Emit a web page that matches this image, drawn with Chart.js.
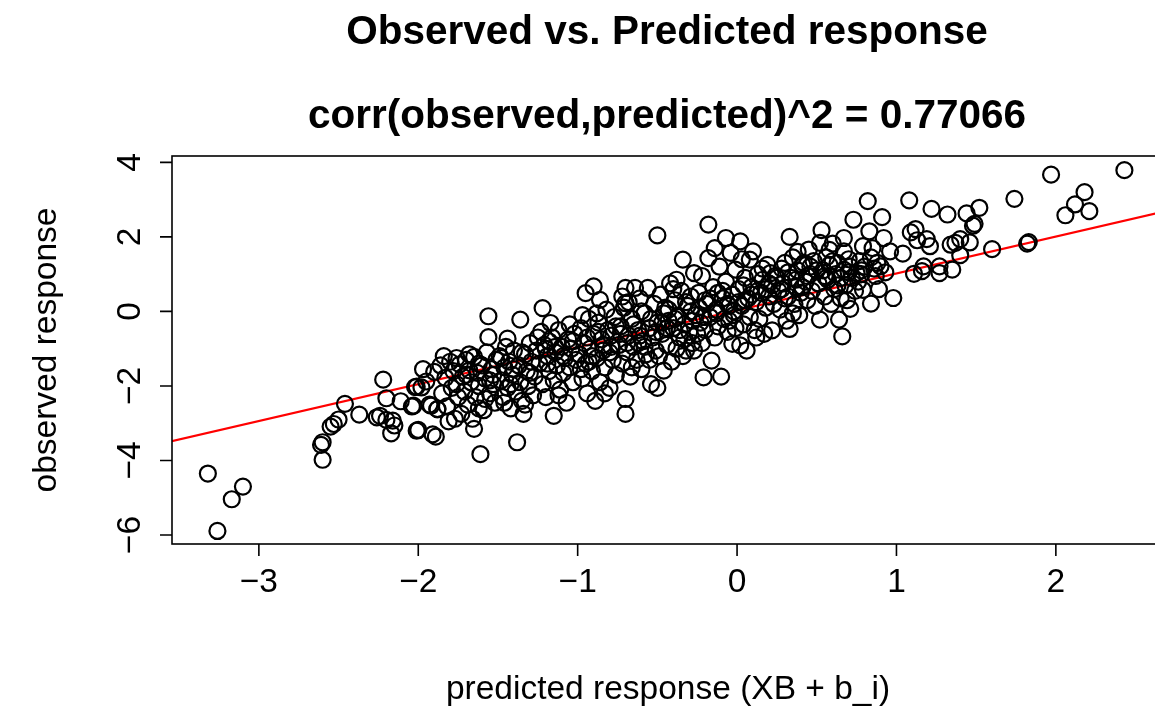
<!DOCTYPE html>
<html>
<head>
<meta charset="utf-8">
<script src="https://cdn.jsdelivr.net/npm/chart.js@4.4.1/dist/chart.umd.min.js"></script>
<style>
  html, body { margin: 0; padding: 0; background: #ffffff; }
  #wrap { width: 1155px; height: 710px; }
</style>
</head>
<body>
<div id="wrap"><canvas id="chart" width="1155" height="710"></canvas></div>
<script>
const predicted = [
  // far left
  -3.32, -3.10, -3.17, -3.26,
  -2.60, -2.61, -2.60, -2.55, -2.53, -2.50, -2.46, -2.37, -2.22, -2.20, -2.11, -2.04, -2.02,
  -2.26, -2.24, -2.20, -2.16, -2.15, -2.17, -2.01,
  // -2.0 .. -1.75
  -2.01, -2.03, -2.00, -1.89, -1.92, -1.88, -1.98, -1.95, -1.93, -1.90, -1.88, -1.86, -1.85, -1.83,
  -1.82, -1.80, -1.79, -1.78, -1.77, -1.76, -1.75, -1.97, -1.91, -1.84, -1.81, -1.76,
  // -1.75 .. -1.5
  -1.74, -1.72, -1.71, -1.70, -1.69, -1.68, -1.67, -1.66, -1.65, -1.65, -1.64, -1.63, -1.62, -1.61,
  -1.60, -1.59, -1.58, -1.57, -1.56, -1.56, -1.55, -1.54, -1.53, -1.52, -1.51, -1.73, -1.68, -1.62,
  -1.58, -1.53,
  // -1.5 .. -1.25
  -1.49, -1.48, -1.47, -1.46, -1.45, -1.44, -1.44, -1.43, -1.42, -1.41, -1.40, -1.39, -1.38, -1.37,
  -1.36, -1.36, -1.35, -1.34, -1.33, -1.32, -1.31, -1.30, -1.29, -1.28, -1.27, -1.26, -1.46, -1.40,
  -1.33,
  // -1.25 .. -1.0
  -1.24, -1.23, -1.22, -1.22, -1.21, -1.20, -1.19, -1.18, -1.17, -1.16, -1.15, -1.15, -1.14, -1.13,
  -1.12, -1.11, -1.10, -1.09, -1.08, -1.07, -1.06, -1.05, -1.04, -1.03, -1.02, -1.01, -1.20, -1.12,
  -1.05, -1.18,
  // -1.0 .. -0.75
  -0.99, -0.98, -0.97, -0.96, -0.95, -0.95, -0.94, -0.93, -0.92, -0.91, -0.90, -0.90, -0.89, -0.88,
  -0.87, -0.86, -0.86, -0.85, -0.84, -0.83, -0.82, -0.81, -0.80, -0.79, -0.78, -0.77, -0.76, -0.93,
  -0.88, -0.83, -0.79, -0.97,
  // -0.75 .. -0.5
  -0.74, -0.73, -0.72, -0.71, -0.70, -0.70, -0.70, -0.70, -0.69, -0.68, -0.67, -0.66, -0.65, -0.64,
  -0.63, -0.62, -0.61, -0.60, -0.59, -0.58, -0.57, -0.56, -0.55, -0.54, -0.53, -0.52, -0.51, -0.50,
  -0.50, -0.50, -0.72, -0.66, -0.60, -0.55, -0.62, -0.68,
  // -0.5 .. -0.25
  -0.49, -0.48, -0.47, -0.46, -0.45, -0.44, -0.43, -0.42, -0.41, -0.40, -0.39, -0.38, -0.38, -0.37,
  -0.36, -0.35, -0.34, -0.34, -0.33, -0.32, -0.31, -0.30, -0.29, -0.28, -0.27, -0.27, -0.26, -0.25,
  -0.46, -0.40, -0.33, -0.29, -0.44,
  // -0.25 .. 0
  -0.24, -0.23, -0.22, -0.21, -0.20, -0.19, -0.18, -0.18, -0.17, -0.16, -0.15, -0.14, -0.14, -0.13,
  -0.12, -0.11, -0.10, -0.09, -0.08, -0.07, -0.07, -0.06, -0.05, -0.04, -0.03, -0.03, -0.02, -0.01,
  -0.01, -0.20, -0.12, -0.05, -0.22,
  // 0 .. 0.25
  0.01, 0.02, 0.02, 0.03, 0.04, 0.05, 0.06, 0.07, 0.08, 0.08, 0.09, 0.10, 0.11, 0.12,
  0.13, 0.14, 0.15, 0.16, 0.17, 0.18, 0.19, 0.20, 0.21, 0.22, 0.22, 0.23, 0.24, 0.05,
  0.12, 0.18, 0.03,
  // 0.25 .. 0.5
  0.26, 0.27, 0.28, 0.29, 0.30, 0.31, 0.32, 0.33, 0.33, 0.34, 0.35, 0.36, 0.37, 0.38,
  0.39, 0.40, 0.41, 0.42, 0.43, 0.44, 0.45, 0.46, 0.47, 0.48, 0.49, 0.30, 0.38, 0.44, 0.35,
  // 0.5 .. 0.75
  0.51, 0.52, 0.52, 0.53, 0.54, 0.55, 0.56, 0.57, 0.58, 0.59, 0.60, 0.61, 0.62, 0.63,
  0.64, 0.65, 0.66, 0.67, 0.67, 0.67, 0.68, 0.69, 0.70, 0.71, 0.72, 0.73, 0.74, 0.75,
  0.56, 0.63, 0.58, 0.70,
  // 0.75 .. 1.0
  0.76, 0.77, 0.78, 0.79, 0.79, 0.80, 0.82, 0.83, 0.84, 0.85, 0.86, 0.87, 0.88, 0.90,
  0.91, 0.92, 0.93, 0.96, 0.98, 0.89,
  // right side
  1.04, 1.08, 1.09, 1.11, 1.12, 1.13, 1.16, 1.17, 1.19, 1.21, 1.22, 1.27, 1.27, 1.32,
  1.34, 1.35, 1.37, 1.40, 1.40, 1.44, 1.46, 1.48, 1.49, 1.52, 1.60, 1.74, 1.82, 1.83,
  1.97, 2.06, 2.12, 2.18, 2.21, 2.43,
  // extra points in the dense core
  -1.70, -1.62, -1.55, -1.48, -1.42, -1.35, -1.30, -1.25, -1.19, -1.14,
  -1.09, -1.03, -0.98, -0.94, -0.91, -0.87, -0.84, -0.80, -0.76, -0.73,
  -0.69, -0.65, -0.61, -0.58, -0.54, -0.51, -0.47, -0.43, -0.39, -0.36,
  -0.32, -0.28, -0.24, -0.21, -0.17, -0.13, -0.09, -0.06, -0.02, 0.01,
  0.04, 0.09, 0.13, 0.16, 0.20, 0.25, 0.28, 0.32, 0.37, 0.41,
  0.46, 0.50, 0.55, 0.60, 0.65, 0.71, 0.78, 0.84
];

const observed = [
  // far left
  -4.35, -4.70, -5.04, -5.89,
  -3.51, -3.58, -3.98, -3.09, -3.02, -2.90, -2.48, -2.77, -1.83, -2.33, -2.41, -2.55, -2.03,
  -2.84, -2.80, -2.91, -2.93, -3.06, -3.27, -3.20,
  // -2.0 .. -1.75
  -2.02, -2.53, -3.18, -3.36, -2.53, -2.62, -2.04, -1.88, -2.50, -1.62, -2.62, -1.45, -2.20, -1.78,
  -2.55, -1.35, -2.05, -1.60, -2.88, -1.25, -2.30, -1.55, -3.30, -1.20, -2.95, -1.95,
  // -1.75 .. -1.5
  -1.42, -1.75, -2.15, -1.30, -2.50, -1.58, -1.90, -2.88, -3.15, -1.22, -2.30, -1.65, -2.00, -3.83,
  -1.45, -2.65, -1.80, -1.10, -0.13, -0.69, -2.20, -1.55, -1.95, -2.45, -1.30, -2.75, -1.15, -2.60,
  -2.35, -1.70,
  // -1.5 .. -1.25
  -1.20, -1.85, -2.30, -1.50, -0.95, -0.73, -2.05, -1.35, -2.60, -1.70, -1.05, -2.15, -3.51, -1.45,
  -0.22, -1.90, -2.40, -2.75, -1.15, -1.60, -2.00, -0.85, -1.35, -2.25, -1.75, -1.05, -2.45, -1.55,
  -2.50,
  // -1.25 .. -1.0
  -1.40, -0.55, 0.09, -1.95, -0.90, -2.30, -1.20, -1.60, -0.31, -0.70, -2.80, -1.85, -1.10, -1.45,
  -0.50, -2.10, -0.95, -1.65, -1.25, -2.45, -0.75, -1.50, -1.00, -1.90, -0.60, -1.30, -1.00, -2.25,
  -0.35, -0.80,
  // -1.0 .. -0.75
  -1.15, -0.45, -1.80, -0.85, 0.49, -1.40, -2.20, -0.20, -1.00, -1.60, 0.67, -0.60, -2.40, -1.25,
  -0.30, 0.31, -1.90, -0.75, -1.05, -1.50, 0.05, -0.50, -2.05, -0.95, -1.30, -0.15, -1.70, -1.35,
  -0.05, -2.20, -0.65, -0.10,
  // -0.75 .. -0.5
  -0.90, -0.40, -1.40, 0.10, 0.63, 0.22, -2.35, -2.75, -1.10, -0.65, -1.75, -0.20, -0.95, 0.63,
  -1.30, -0.50, 0.35, -1.55, -0.80, -0.05, -1.15, 0.63, -0.45, -1.95, -0.70, 0.20, -1.05, 2.04,
  -2.05, -0.30, 0.40, -1.50, 0.00, -1.30, -0.85, 0.25,
  // -0.5 .. -0.25
  -1.20, 0.45, -0.60, -1.59, 0.10, -0.90, -0.25, 0.75, -1.35, -0.45, 0.30, 0.85, -1.00, -0.15,
  -0.70, 0.55, 1.39, -1.20, -0.35, -1.05, 0.15, -0.55, 0.40, -0.85, 1.03, -1.05, -0.10, -0.60,
  -0.05, 0.60, -0.75, 0.00, -0.45,
  // -0.25 .. 0
  0.50, -0.30, 0.95, -1.77, -0.50, 0.20, 2.33, 1.43, -0.15, -1.32, 0.65, 1.70, -0.70, 0.05,
  -0.40, 1.20, -1.75, 0.35, -0.20, 1.97, 0.80, -0.55, 0.15, 1.57, -0.87, 0.45, -0.10, 1.12,
  -0.45, 0.30, 0.50, -0.25, -0.85,
  // 0 .. 0.25
  0.60, 1.88, -0.91, 0.15, -0.35, 0.90, -1.05, 0.35, 1.39, -0.15, 0.65, 1.61, -0.50, 0.25,
  1.00, -0.20, 0.50, 0.85, -0.60, 0.10, 1.25, 0.40, 1.03, -0.51, 0.70, 0.20, 0.95, 0.30,
  -0.70, 0.60, 1.40,
  // 0.25 .. 0.5
  0.55, 0.05, 1.15, 0.75, 1.30, -0.25, 0.40, 2.00, -0.47, 0.90, 1.45, 0.20, 0.65, 1.10,
  -0.10, 0.50, 1.25, 1.30, 0.80, 0.30, 1.66, 1.00, 0.55, 1.35, 0.15, 0.35, 1.60, 0.95, -0.05,
  // 0.5 .. 0.75
  0.75, 1.84, -0.22, 2.18, 1.10, 0.40, 1.45, 0.85, 1.25, 0.20, 1.82, 0.60, 1.00, 1.30,
  -0.22, 0.35, -0.67, 1.97, 1.61, 1.12, 0.70, 0.30, 1.40, 0.07, 0.90, 2.46, 0.55, 1.03,
  0.90, 0.70, 1.65, 1.05,
  // 0.75 .. 1.0
  0.80, 1.35, 1.10, 1.75, 0.58, 1.20, 2.96, 2.15, 0.21, 1.70, 1.15, 0.95, 1.30, 1.21,
  2.53, 1.97, 1.05, 1.61, 0.36, 0.60,
  // right side
  1.55, 2.98, 2.12, 1.01, 2.21, 1.91, 1.08, 1.21, 1.94, 1.75, 2.75, 1.21, 1.03, 2.60,
  1.79, 1.12, 1.84, 1.94, 1.51, 2.63, 1.85, 2.30, 2.35, 2.78, 1.67, 3.02, 1.82, 1.86,
  3.67, 2.58, 2.87, 3.20, 2.69, 3.79,
  // extra points in the dense core
  -1.70, -1.40, -1.85, -1.25, -1.95, -1.10, -1.65, -0.70, -1.40, -0.95,
  -1.20, -0.80, -1.55, -0.70, -1.20, -0.55, -0.90, -1.10, -0.40, -0.60,
  -0.85, -0.35, -0.65, -0.95, -0.20, -0.55, -0.30, 0.05, -0.20, -0.50,
  0.25, -0.25, 0.10, -0.15, 0.35, -0.05, 0.55, 0.20, 0.00, 0.25,
  0.70, 0.45, 0.55, 1.15, 0.75, 0.90, 0.60, 1.05, 0.85, 0.65,
  1.20, 1.10, 0.95, 1.35, 0.90, 1.20, 1.00, 1.45
];

// red fitted line, two end points
const fitX = [-3.7, 2.8];
const fitY = [-3.63, 2.80];

const xTicks = [-3, -2, -1, 0, 1, 2];
const yTicks = [-6, -4, -2, 0, 2, 4];

const mainTitle = 'Observed vs. Predicted response';
const subTitle = 'corr(observed,predicted)^2 = 0.77066';
const xTitle = 'predicted response (XB + b_i)';
const yTitle = 'observed response';

const FONT = '"Liberation Sans", Arial, Helvetica, sans-serif';

function fmt(v) {
  return v < 0 ? '\u2212' + Math.abs(v) : String(v);
}

// R style box, ticks and labels
const rAxes = {
  id: 'rAxes',
  afterDraw(chart) {
    const ctx = chart.ctx;
    const area = chart.chartArea;
    const xs = chart.scales.x;
    const ys = chart.scales.y;
    const tick = 12;

    ctx.save();
    ctx.strokeStyle = '#000';
    ctx.fillStyle = '#000';
    ctx.lineWidth = 1.6;

    // box (right side runs off the canvas)
    ctx.strokeRect(area.left, area.top, area.right - area.left + 20, area.bottom - area.top);

    // x axis
    ctx.beginPath();
    xTicks.forEach(v => {
      const px = xs.getPixelForValue(v);
      ctx.moveTo(px, area.bottom);
      ctx.lineTo(px, area.bottom + tick);
    });
    ctx.stroke();
    ctx.font = '33.5px ' + FONT;
    ctx.textAlign = 'center';
    ctx.textBaseline = 'middle';
    xTicks.forEach(v => {
      ctx.fillText(fmt(v), xs.getPixelForValue(v), 583);
    });

    // y axis
    ctx.beginPath();
    yTicks.forEach(v => {
      const py = ys.getPixelForValue(v);
      ctx.moveTo(area.left, py);
      ctx.lineTo(area.left - tick, py);
    });
    ctx.stroke();
    yTicks.forEach(v => {
      ctx.save();
      ctx.translate(131, ys.getPixelForValue(v));
      ctx.rotate(-Math.PI / 2);
      ctx.fillText(fmt(v), 0, 0);
      ctx.restore();
    });

    // titles
    ctx.fillText(xTitle, 668, 690);
    ctx.save();
    ctx.translate(47, (area.top + area.bottom) / 2);
    ctx.rotate(-Math.PI / 2);
    ctx.fillText(yTitle, 0, 0);
    ctx.restore();

    ctx.font = 'bold 40.5px ' + FONT;
    ctx.fillText(mainTitle, 667, 33);
    ctx.fillText(subTitle, 667, 117);
    ctx.restore();
  }
};

const points = predicted.map((x, i) => ({ x: x, y: observed[i] }));
const fitLine = fitX.map((x, i) => ({ x: x, y: fitY[i] }));

new Chart(document.getElementById('chart'), {
  type: 'scatter',
  data: {
    datasets: [
      {
        label: 'observed',
        data: points,
        pointStyle: 'circle',
        pointRadius: 8,
        pointHoverRadius: 8,
        borderWidth: 2.2,
        borderColor: '#000',
        backgroundColor: 'rgba(0,0,0,0)'
      },
      {
        label: 'fit',
        type: 'line',
        data: fitLine,
        borderColor: '#ff0000',
        borderWidth: 2.2,
        pointRadius: 0,
        fill: false
      }
    ]
  },
  options: {
    responsive: false,
    animation: false,
    events: [],
    layout: {
      autoPadding: false,
      padding: { left: 172, right: 0, top: 156, bottom: 166 }
    },
    scales: {
      x: { type: 'linear', display: false, min: -3.545, max: 2.622 },
      y: { type: 'linear', display: false, min: -6.24, max: 4.17 }
    },
    plugins: {
      legend: { display: false },
      tooltip: { enabled: false },
      title: { display: false }
    }
  },
  plugins: [rAxes]
});
</script>
</body>
</html>
